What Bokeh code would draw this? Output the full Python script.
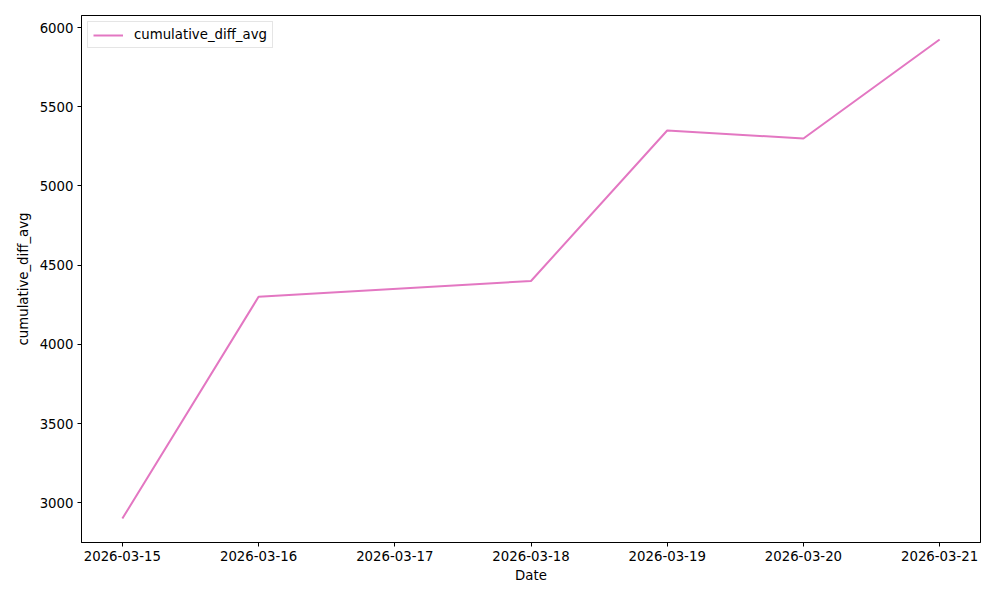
import pandas as pd
from bokeh.plotting import figure
from bokeh.models import (ColumnDataSource, FixedTicker, SingleIntervalTicker,
                          DatetimeTickFormatter, Range1d, Legend, LegendItem)
from bokeh.embed import file_html
from bokeh.resources import INLINE

dates = ["2026-03-15", "2026-03-16", "2026-03-18", "2026-03-19", "2026-03-20", "2026-03-21"]
cumulative_diff_avg = [2900, 4300, 4400, 5350, 5300, 5925]
tick_dates = ["2026-03-15", "2026-03-16", "2026-03-17", "2026-03-18",
              "2026-03-19", "2026-03-20", "2026-03-21"]

x = pd.to_datetime(dates)
src = ColumnDataSource(dict(x=x, y=cumulative_diff_avg))

xmin = pd.Timestamp(dates[0]).value / 1e6
xmax = pd.Timestamp(dates[-1]).value / 1e6
span = xmax - xmin
ymin, ymax = min(cumulative_diff_avg), max(cumulative_diff_avg)
yspan = ymax - ymin

FONT = "DejaVu Sans"

p = figure(width=1000, height=600, output_backend="svg", toolbar_location=None,
           x_axis_type="datetime",
           x_range=Range1d(xmin - 0.05 * span, xmax + 0.05 * span),
           y_range=Range1d(ymin - 0.05 * yspan, ymax + 0.05 * yspan),
           min_border_left=81, min_border_right=20, min_border_top=15, min_border_bottom=58)

r = p.line("x", "y", source=src, line_color="#e377c2", line_width=2)

p.xaxis.ticker = FixedTicker(ticks=[pd.Timestamp(d).value / 1e6 for d in tick_dates])
p.xaxis.formatter = DatetimeTickFormatter(days="%Y-%m-%d", months="%Y-%m-%d",
                                          hours="%Y-%m-%d", years="%Y-%m-%d")
p.yaxis.ticker = SingleIntervalTicker(interval=500, num_minor_ticks=0)

p.xgrid.visible = False
p.ygrid.visible = False
p.outline_line_color = "black"
p.outline_line_width = 1
p.outline_line_alpha = 1

for ax in (p.xaxis, p.yaxis):
    ax.axis_line_color = "black"
    ax.major_tick_line_color = "black"
    ax.major_tick_out = 4
    ax.major_tick_in = 0
    ax.minor_tick_line_color = None
    ax.major_label_text_font = FONT
    ax.major_label_text_font_size = "13.3px"
    ax.major_label_text_color = "black"
    ax.axis_label_text_font = FONT
    ax.axis_label_text_font_size = "13.3px"
    ax.axis_label_text_font_style = "normal"
    ax.axis_label_text_color = "black"
    ax.major_label_standoff = 4

p.xaxis.axis_label = "Date"
p.yaxis.axis_label = "cumulative_diff_avg"
p.xaxis.axis_label_standoff = 4
p.yaxis.axis_label_standoff = 6

legend = Legend(items=[LegendItem(label="cumulative_diff_avg", renderers=[r])],
                location="top_left")
legend.label_text_font = FONT
legend.label_text_font_size = "13.3px"
legend.label_text_color = "black"
legend.border_line_color = "#cccccc"
legend.border_line_width = 1
legend.background_fill_alpha = 0.8
legend.glyph_width = 30
legend.glyph_height = 14
legend.padding = 5
legend.margin = 6
legend.label_standoff = 11
p.add_layout(legend)

open("out.html", "w").write(file_html(p, INLINE))
